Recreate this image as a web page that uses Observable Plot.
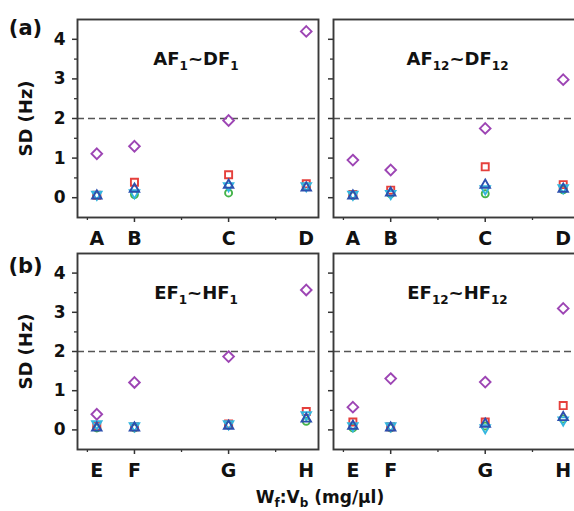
<!DOCTYPE html>
<html>
<head>
<meta charset="utf-8">
<script src="https://cdn.jsdelivr.net/npm/d3@7"></script>
<script src="https://cdn.jsdelivr.net/npm/@observablehq/plot@0.6"></script>
<style>
html,body{margin:0;padding:0;background:#fff;overflow:hidden;}
#fig{position:relative;width:574px;height:511px;overflow:hidden;background:#fff;}
#fig svg{position:absolute;overflow:visible;}
#xtitle{position:absolute;left:0;top:487px;width:640px;text-align:center;font:bold 17px "DejaVu Sans",sans-serif;color:#111;line-height:20px;}
#xtitle sub{font-size:12px;vertical-align:baseline;position:relative;top:4px;}
</style>
</head>
<body>
<div id="fig"><div id="xtitle">W<sub>f</sub>:V<sub>b</sub> (mg/µl)</div></div>
<script>
// ---------- data ----------
const topCategories = ["A", "B", "C", "D"];
const bottomCategories = ["E", "F", "G", "H"];
const categoryX = [0.2, 1, 3, 4.65];          // W_f:V_b position of each category on the x scale
const yTickValues = [0, 1, 2, 3, 4];
const yMinorTickValues = [0.5, 1.5, 2.5, 3.5];
const xMajorTickValues = [1, 3];
const xMinorTickValues = [0, 2, 4];
const thresholdSD = [2];
const seriesKeys = ["circle", "square", "invTriangle", "triangle", "diamond"];

// AF1~DF1
const af1Diamond = [1.11, 1.30, 1.95, 4.20];
const af1Square = [0.06, 0.39, 0.58, 0.35];
const af1Triangle = [0.05, 0.22, 0.32, 0.25];
const af1InvTriangle = [0.08, 0.12, 0.30, 0.30];
const af1Circle = [0.05, 0.08, 0.12, 0.28];
// AF12~DF12
const af12Diamond = [0.95, 0.70, 1.75, 2.98];
const af12Square = [0.08, 0.19, 0.78, 0.33];
const af12Triangle = [0.05, 0.12, 0.32, 0.22];
const af12InvTriangle = [0.08, 0.10, 0.22, 0.25];
const af12Circle = [0.05, 0.10, 0.10, 0.20];
// EF1~HF1
const ef1Diamond = [0.40, 1.21, 1.87, 3.57];
const ef1Square = [0.10, 0.08, 0.15, 0.47];
const ef1Triangle = [0.05, 0.05, 0.10, 0.28];
const ef1InvTriangle = [0.15, 0.10, 0.15, 0.38];
const ef1Circle = [0.05, 0.05, 0.12, 0.22];
// EF12~HF12
const ef12Diamond = [0.58, 1.31, 1.22, 3.10];
const ef12Square = [0.20, 0.08, 0.20, 0.62];
const ef12Triangle = [0.10, 0.05, 0.15, 0.32];
const ef12InvTriangle = [0.10, 0.10, 0.05, 0.25];
const ef12Circle = [0.05, 0.05, 0.10, 0.28];

const panelTitleParts = {
  af1: [["AF", 0], ["1", 1], ["~DF", 0], ["1", 1]],
  af12: [["AF", 0], ["12", 1], ["~DF", 0], ["12", 1]],
  ef1: [["EF", 0], ["1", 1], ["~HF", 0], ["1", 1]],
  ef12: [["EF", 0], ["12", 1], ["~HF", 0], ["12", 1]]
};

// ---------- styles ----------
const FONT = "DejaVu Sans";
const triangleDown = {
  draw(context, size) {
    const s = Math.sqrt(size) * 0.6824, t = s / 2, u = s * Math.sqrt(3) / 2;
    context.moveTo(0, s);
    context.lineTo(u, -t);
    context.lineTo(-u, -t);
    context.closePath();
  }
};
const seriesStyle = {
  diamond: {symbol: "diamond2", stroke: "#9d45b4", r: 4.8},
  square: {symbol: "square2", stroke: "#e5403c", r: 4.5},
  triangle: {symbol: "triangle2", stroke: "#2c4fae", r: 4.5},
  invTriangle: {symbol: triangleDown, stroke: "#33b6df", r: 4.5},
  circle: {symbol: "circle", stroke: "#46b44a", r: 3.5}
};

function rowsFor(values) {
  const rows = [];
  for (const key of seriesKeys) {
    values[key].forEach((v, i) => rows.push({series: key, x: categoryX[i], value: v}));
  }
  return rows;
}

function makePanel({values, categories, titleKey, left, top, marginLeft, frameW, frameH, showY, panelLabel, labelDy, titleDx}) {
  const marginRight = 3, marginTop = 19, marginBottom = 36;
  const rows = rowsFor(values);
  const titleText = panelTitleParts[titleKey].map(d => d[0]).join("");
  const marks = [
    Plot.ruleY(thresholdSD, {stroke: "#555", strokeWidth: 1.6, strokeDasharray: "7,4"}),
    Plot.axisY(yTickValues, {tickSize: 5, tickPadding: 7, stroke: "#333", strokeWidth: 1.5,
      fill: showY ? "#111" : "none", fontSize: 17, fontWeight: "bold", fontFamily: FONT, label: null}),
    Plot.axisY(yMinorTickValues, {tickSize: 3, stroke: "#333", strokeWidth: 1.3, fill: "none", label: null}),
    Plot.axisX(xMajorTickValues, {tickSize: 5, stroke: "#333", strokeWidth: 1.5, fill: "none", label: null}),
    Plot.axisX(xMinorTickValues, {tickSize: 3, stroke: "#333", strokeWidth: 1.3, fill: "none", label: null}),
    Plot.text(categories, {x: (d, i) => categoryX[i], text: d => d, frameAnchor: "bottom", lineAnchor: "middle",
      dy: 21, fontSize: 19, fontWeight: "bold", fontFamily: FONT, fill: "#111"}),
    ...seriesKeys.map(key => Plot.dot(rows.filter(r => r.series === key), {
      x: "x", y: "value", symbol: seriesStyle[key].symbol, r: seriesStyle[key].r,
      stroke: seriesStyle[key].stroke, strokeWidth: 1.9, fill: "none"
    })),
    Plot.frame({stroke: "#3a3a3a", strokeWidth: 1.9}),
    Plot.text([titleText], {frameAnchor: "top", lineAnchor: "middle", dy: 40, dx: titleDx,
      fontSize: 18, fontWeight: "bold", fontFamily: FONT, fill: "#111"})
  ];
  if (showY) {
    marks.push(Plot.text(["SD (Hz)"], {frameAnchor: "left", dx: -51, rotate: -90, lineAnchor: "middle",
      textAnchor: "middle", fontSize: 18, fontWeight: "bold", fontFamily: FONT, fill: "#111"}));
    marks.push(Plot.text([panelLabel], {frameAnchor: "top-left", dx: -52, dy: labelDy, lineAnchor: "middle",
      textAnchor: "middle", fontSize: 21, fontWeight: "bold", fontFamily: FONT, fill: "#111"}));
  }
  const svg = Plot.plot({
    width: marginLeft + frameW + marginRight,
    height: marginTop + frameH + marginBottom,
    marginLeft, marginRight, marginTop, marginBottom,
    x: {domain: [-0.21, 4.91], axis: null},
    y: {domain: [-0.5, 4.5], axis: null},
    style: {background: "transparent", color: "#111", fontFamily: FONT, overflow: "visible"},
    marks
  });
  svg.style.left = left + "px";
  svg.style.top = top + "px";
  // subscripts in the panel title
  d3.select(svg).selectAll("text").filter(function () { return this.textContent === titleText; }).each(function () {
    const t = d3.select(this);
    t.text(null);
    let shifted = false;
    panelTitleParts[titleKey].forEach(([s, isSub]) => {
      const ts = t.append("tspan").text(s);
      if (isSub) {
        ts.attr("font-size", 12);
        if (!shifted) { ts.attr("dy", 5); shifted = true; }
      } else if (shifted) {
        ts.attr("dy", -5); shifted = false;
      }
    });
  });
  document.getElementById("fig").appendChild(svg);
}

const v = (d, s, t, it, c) => ({diamond: d, square: s, triangle: t, invTriangle: it, circle: c});

makePanel({values: v(af1Diamond, af1Square, af1Triangle, af1InvTriangle, af1Circle), categories: topCategories,
  titleKey: "af1", left: 0, top: 0, marginLeft: 77, frameW: 241, frameH: 198, showY: true, panelLabel: "(a)", labelDy: 9, titleDx: -2});
makePanel({values: v(af12Diamond, af12Square, af12Triangle, af12InvTriangle, af12Circle), categories: topCategories,
  titleKey: "af12", left: 323, top: 0, marginLeft: 10, frameW: 242, frameH: 198, showY: false, titleDx: 3});
makePanel({values: v(ef1Diamond, ef1Square, ef1Triangle, ef1InvTriangle, ef1Circle), categories: bottomCategories,
  titleKey: "ef1", left: 0, top: 234, marginLeft: 77, frameW: 241, frameH: 196, showY: true, panelLabel: "(b)", labelDy: 13, titleDx: -2});
makePanel({values: v(ef12Diamond, ef12Square, ef12Triangle, ef12InvTriangle, ef12Circle), categories: bottomCategories,
  titleKey: "ef12", left: 323, top: 234, marginLeft: 10, frameW: 242, frameH: 196, showY: false, titleDx: 3});
</script>
</body>
</html>
